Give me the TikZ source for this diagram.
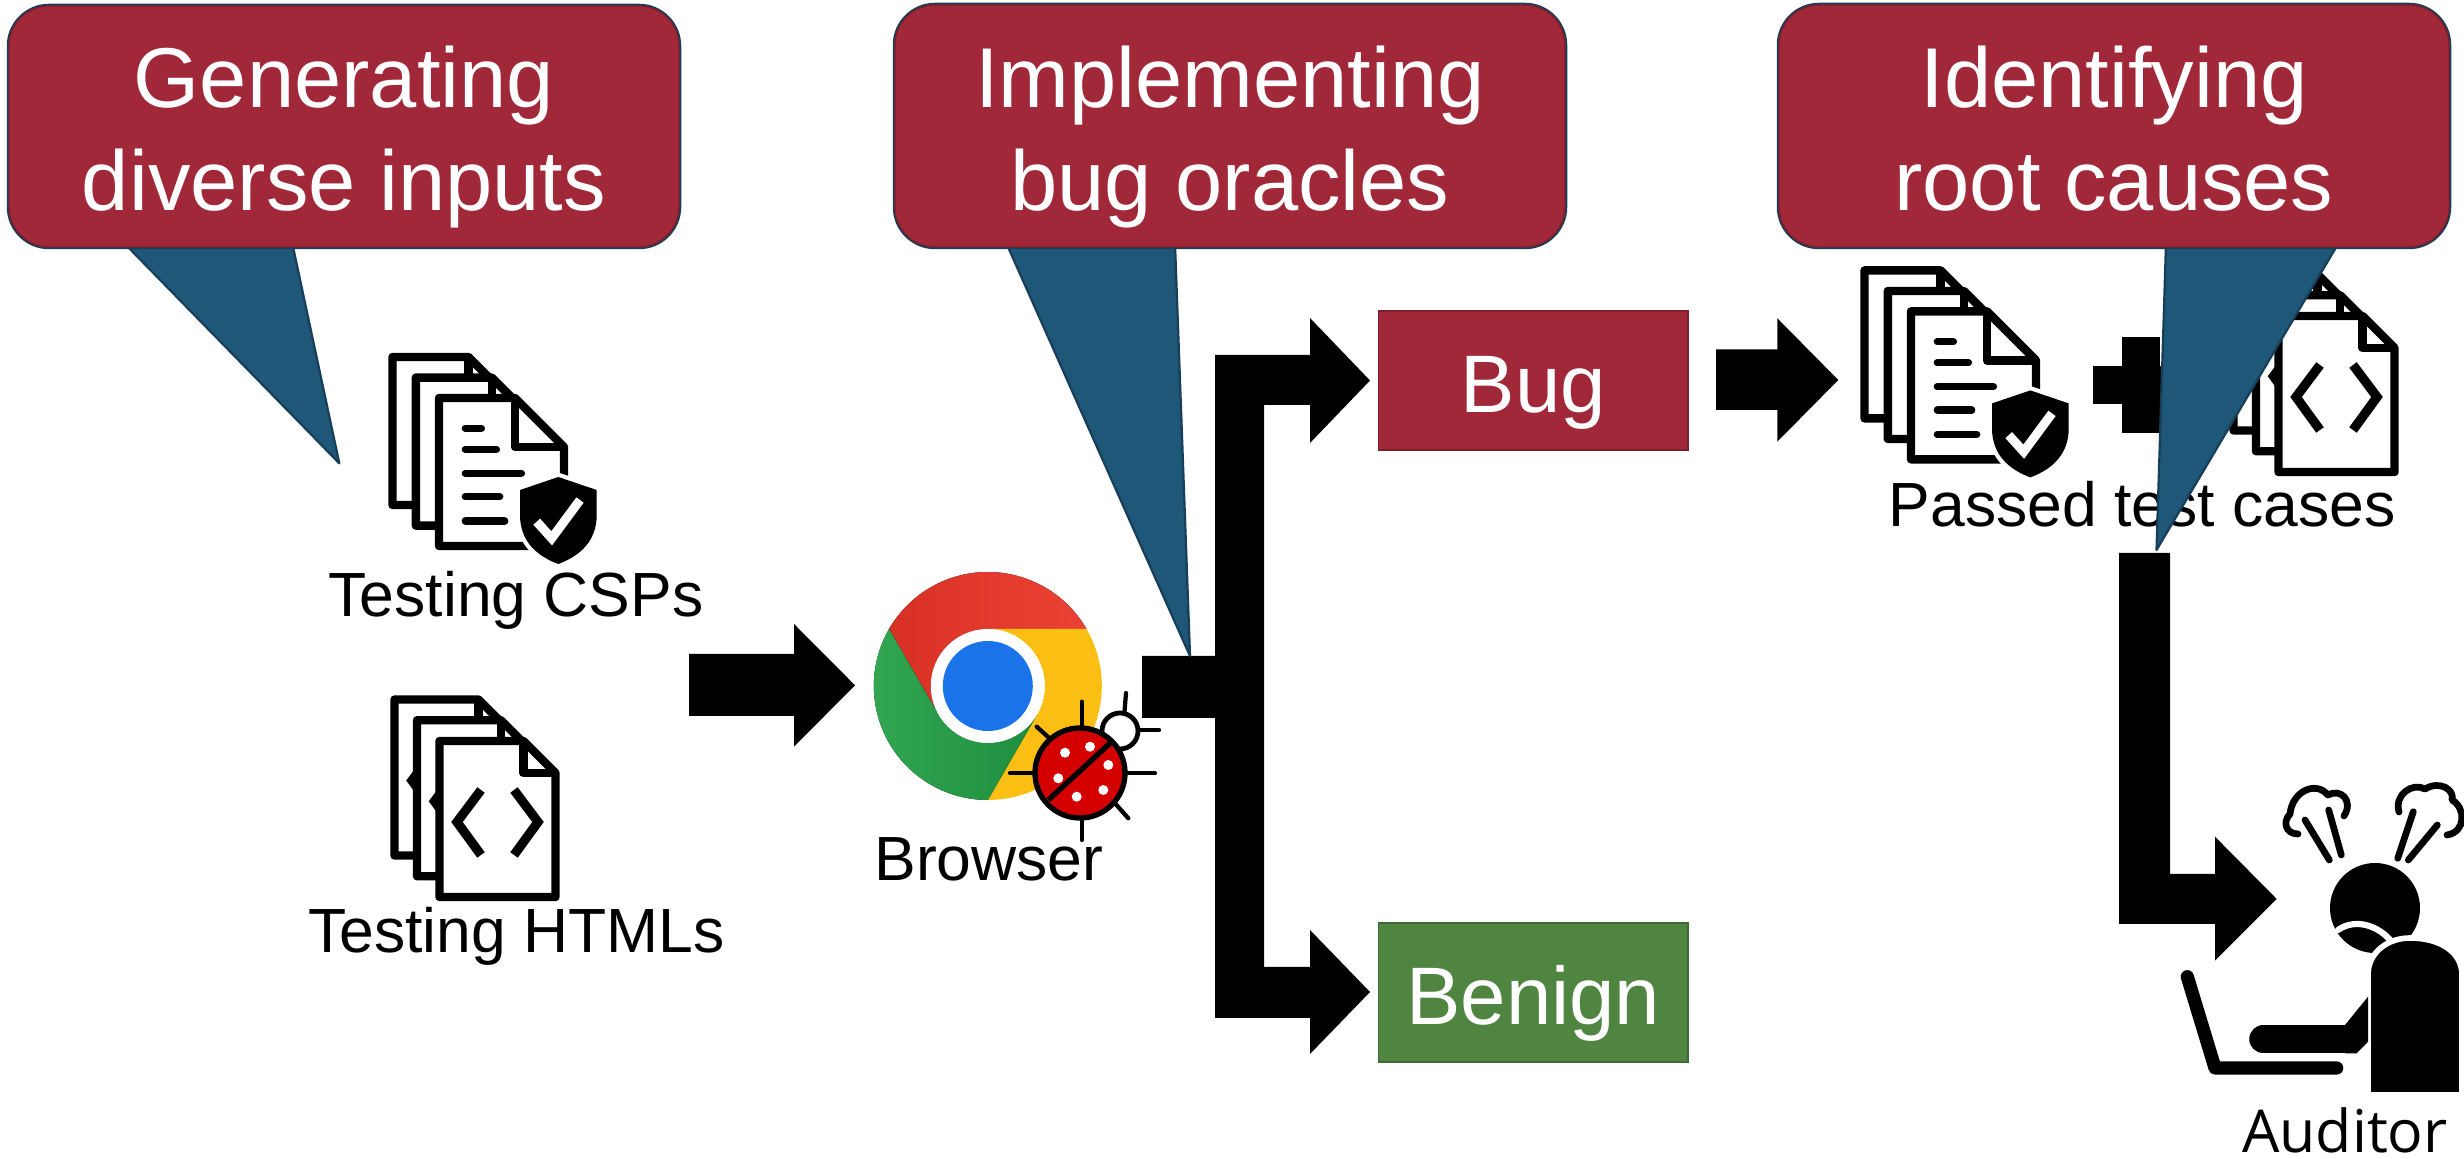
\documentclass[tikz,border=0pt]{standalone}
\usepackage{fontspec}
\setmainfont{Liberation Sans}
\newfontfamily\audfont{Open Sans}

\definecolor{calloutred}{HTML}{A12838}
\definecolor{calloutredline}{HTML}{7E1F2C}
\definecolor{tailblue}{HTML}{1F5779}
\definecolor{tailblueline}{HTML}{173F5A}
\definecolor{benigngreen}{HTML}{4F8441}
\definecolor{benignline}{HTML}{3E6A33}
\definecolor{chromeredA}{HTML}{D93025}
\definecolor{chromeredB}{HTML}{EA4335}
\definecolor{chromeyellow}{HTML}{FBBF13}
\definecolor{chromegreenA}{HTML}{34A853}
\definecolor{chromegreenB}{HTML}{1E8E3E}
\definecolor{chromeblue}{HTML}{1A73E8}
\definecolor{ladyred}{HTML}{D40000}

\newcommand\cofont{\fontsize{30.2pt}{36pt}\selectfont}
\newcommand\lblfont{\fontsize{22.2pt}{26pt}\selectfont}
\newcommand\bxfont{\fontsize{29pt}{34pt}\selectfont}

% one sheet of paper with a folded corner: left, top, right, bottom, fold size
\newcommand{\docsheet}[5]{%
  \filldraw[docline] (#1,#2) -- ({#3-#5},#2) -- (#3,{#2+#5}) -- (#3,#4) -- (#1,#4) -- cycle;
  \draw[docline, fill=none] ({#3-#5},#2) -- ({#3-#5},{#2+#5}) -- (#3,{#2+#5});
}
% a sheet with the code brackets
\newcommand{\htmlpage}{%
  \docsheet{439.5}{741}{555.5}{897}{32}
  \draw[bracket] (481,790) -- (457,822) -- (481,855);
  \draw[bracket] (514,790) -- (538,822) -- (514,855);
}
% callout: box corners, tail base left/right, tail tip
\newcommand{\callout}[8]{%
  \filldraw[fill=tailblue, draw=tailblueline, line width=0.8pt, line join=round]
    (#5,{#4-3}) -- (#7,#8) -- (#6,{#4-3}) -- cycle;
  \draw[tailblueline, line width=1.6pt, rounded corners=5mm] (#1,#2) rectangle (#3,#4);
  \filldraw[fill=calloutred, draw=calloutredline, line width=0.5pt, rounded corners=5mm]
    (#1,#2) rectangle (#3,#4);
}

\tikzset{
  docline/.style={draw=black, fill=white, line width=3pt, line join=round},
  bracket/.style={draw=black, line width=3.3pt, line join=miter},
  blockarrow/.style={fill=black},
  cotext/.style={text=white, font=\cofont, anchor=base, inner sep=0pt},
  lbl/.style={text=black, font=\lblfont, anchor=base, inner sep=0pt},
  verdict/.style={font=\bxfont, text=white, minimum width=3.87cm, minimum height=1.74cm,
    text height=22.6pt, text depth=0pt, line width=0.6pt, inner sep=0pt},
  steam/.style={draw=black, line width=2.4pt, line cap=round, line join=round},
  cspdocs/.pic={
    \docsheet{392.5}{357}{517.5}{505}{49}
    \docsheet{415.8}{377.6}{540.8}{525.6}{49}
    \docsheet{439}{398}{564}{546}{49}
    \foreach \ya/\xb in {428.3/481.4,449.3/496.4,473.3/521.4,496.7/499.7,521/504.7}
      \draw[line width=2.6pt, line cap=round] (465.3,\ya) -- (\xb,\ya);
    \draw[white, line width=3pt, line join=round]
      (520,490) -- (558.3,477) -- (596.7,490) -- (596.7,515)
      .. controls (596.7,541) and (580,556) .. (558.3,564)
      .. controls (536.6,556) and (520,541) .. (520,515) -- cycle;
    \fill[black]
      (520,490) -- (558.3,477) -- (596.7,490) -- (596.7,515)
      .. controls (596.7,541) and (580,556) .. (558.3,564)
      .. controls (536.6,556) and (520,541) .. (520,515) -- cycle;
    \draw[white, line width=3.2pt] (536.7,521.7) -- (551.7,538.3) -- (580,500);
  },
  htmldocs/.pic={
    \begin{scope}[shift={(-45,-41.5)}]\htmlpage\end{scope}
    \begin{scope}[shift={(-22.5,-20.75)}]\htmlpage\end{scope}
    \htmlpage
  }
}

\begin{document}
\begin{tikzpicture}[x=0.0125cm, y=-0.0125cm]
  \useasboundingbox (0,0) rectangle (2464,1159);
  \fill[white] (0,0) rectangle (2464,1159);

  % ---------- stage 1: inputs ----------
  \callout{9}{6}{679}{247}{125}{292.4}{339.3}{463.3}
  \node[cotext] (c1a) at (344,108) {Generating};
  \node[cotext] (c1b) at (344,211) {diverse inputs};

  \pic (csp) at (0,0) {cspdocs};
  \node[lbl] (csplbl) at (516,617) {Testing CSPs};
  \pic (html) at (0,0) {htmldocs};
  \node[lbl] (htmllbl) at (516.5,953) {Testing HTMLs};

  % input arrow into the browser
  \fill[blockarrow] (689,654) -- (794,654) -- (794,624) -- (855,685.3)
    -- (794,746.7) -- (794,716) -- (689,716) -- cycle;

  % ---------- browser ----------
  \begin{scope}[shift={(987.8,686)}, yscale=-1]
    \fill[left color=chromeredA, right color=chromeredB]
      (30:114) arc[start angle=30, end angle=150, radius=114]
      -- (210:57) arc[start angle=210, end angle=90, radius=57] -- cycle;
    \fill[chromeyellow]
      (-90:114) arc[start angle=-90, end angle=30, radius=114]
      -- (90:57) arc[start angle=90, end angle=-30, radius=57] -- cycle;
    \fill[left color=chromegreenA, right color=chromegreenB]
      (150:114) arc[start angle=150, end angle=270, radius=114]
      -- (-30:57) arc[start angle=-30, end angle=-150, radius=57] -- cycle;
    \fill[white] (0,0) circle[radius=57];
    \fill[chromeblue] (0,0) circle[radius=45];
  \end{scope}

  % ladybug
  \begin{scope}[line width=1.5pt, line cap=round]
    \draw (1081.7,701.7) -- (1081.7,740);
    \draw (1126,693) -- (1124,718);
    \draw (1135,730) -- (1159,730);
    \draw (1120,773.3) -- (1155,773.3);
    \draw (1105,792) -- (1128.3,818.3);
    \draw (1081.7,805) -- (1081.7,840);
    \draw (1010,773.3) -- (1045,773.3);
    \draw (1036.7,726.7) -- (1058,746);
  \end{scope}
  \filldraw[fill=white, draw=black, line width=1.7pt] (1120,731) circle[radius=18];
  \filldraw[fill=ladyred, draw=black, line width=1.9pt] (1080,773) circle[radius=45];
  \draw[black, line width=1.9pt] (1048.3,800) -- (1111.7,741.7);
  \foreach \dx/\dy in {1065/752.7,1090/746.7,1108.3/765,1058.3/778.3,1103.3/790,1076.7/796.7}
    \fill[white] (\dx,\dy) circle[radius=5];
  \node[lbl] (brlbl) at (989,881) {Browser};

  % ---------- stage 2: oracles ----------
  \fill[blockarrow] (1142,656) -- (1215,656) -- (1215,355) -- (1310,355) -- (1310,318)
    -- (1370,380.5) -- (1310,443) -- (1310,405) -- (1264,405) -- (1264,967)
    -- (1310,967) -- (1310,930) -- (1370,992) -- (1310,1054) -- (1310,1018)
    -- (1215,1018) -- (1215,718) -- (1142,718) -- cycle;

  \node[verdict, fill=calloutred, draw=calloutredline] (bug) at (1533.3,380.3) {Bug};
  \node[verdict, fill=benigngreen, draw=benignline] (benign) at (1533.3,992.4) {Benign};

  \callout{895}{5}{1565}{247}{1006.7}{1175}{1190}{656}
  \node[cotext] (c2a) at (1230,107.5) {Implementing};
  \node[cotext] (c2b) at (1230,210.5) {bug oracles};

  % ---------- stage 3: root causes ----------
  \fill[blockarrow] (1716,349.3) -- (1777.3,349.3) -- (1777.3,318.3) -- (1838.3,380)
    -- (1777.3,441.7) -- (1777.3,410) -- (1716,410) -- cycle;

  \pic (passcsp) at (1472,-86.6) {cspdocs};
  \fill[black] (2092.5,366) rectangle (2190,404);
  \fill[black] (2122.3,337) rectangle (2160,433);
  \pic (passhtml) at (1839,-425) {htmldocs};
  \node[lbl] (passlbl) at (2142,527) {Passed test cases};

  \callout{1779}{5}{2449}{247}{2166}{2338}{2156.5}{550}
  \node[cotext] (c3a) at (2114,108) {Identifying};
  \node[cotext] (c3b) at (2114,211) {root causes};

  % hand-off to the auditor
  \fill[blockarrow] (2119,553) -- (2170,553) -- (2170,874) -- (2215,874) -- (2215,836.7)
    -- (2276.7,899) -- (2215,960.7) -- (2215,924) -- (2119,924) -- cycle;

  % auditor
  \draw[steam] (2298,834) .. controls (2286,834) and (2282,822) .. (2290,814)
    .. controls (2292,792) and (2315,780) .. (2328,795)
    .. controls (2340,788) and (2354,800) .. (2344,816);
  \draw[steam] (2305,820) -- (2329.3,860);
  \draw[steam] (2328.7,810) -- (2341.3,855);
  \draw[steam] (2399,812) .. controls (2394,795) and (2412,782) .. (2425,789)
    .. controls (2440,780) and (2455,790) .. (2452,800)
    .. controls (2466,808) and (2466,832) .. (2447,835);
  \draw[steam] (2413.3,811.7) -- (2397.7,858.3);
  \draw[steam] (2437.3,825) -- (2408.3,860);

  \fill[black] (2375,908) circle[radius=45];
  \draw[white, line width=2.2pt, line cap=round] (2338,930) .. controls (2355,918) and (2378,925) .. (2392,942);
  \filldraw[fill=black, draw=white, line width=2pt]
    (2368,1095) -- (2368,975) .. controls (2368,952) and (2388,938) .. (2410,938)
    .. controls (2440,938) and (2462,952) .. (2462,975) -- (2462,1095) -- cycle;
  \fill[black] (2368,996.7) -- (2345,1025) -- (2345,1053.3) -- (2356.7,1053.3) -- (2368,1041.7) -- cycle;
  \draw[black, line width=10pt, line cap=round] (2263.3,1039.2) -- (2350,1039.2);
  \draw[black, line width=4.7pt, line cap=round, line join=round]
    (2187.3,976.7) -- (2215,1068) -- (2336.7,1068);
  \node[anchor=base, inner sep=0pt, font=\audfont\fontsize{21pt}{25pt}\selectfont] (audlbl) at (2345,1153) {Auditor};
\end{tikzpicture}
\end{document}
